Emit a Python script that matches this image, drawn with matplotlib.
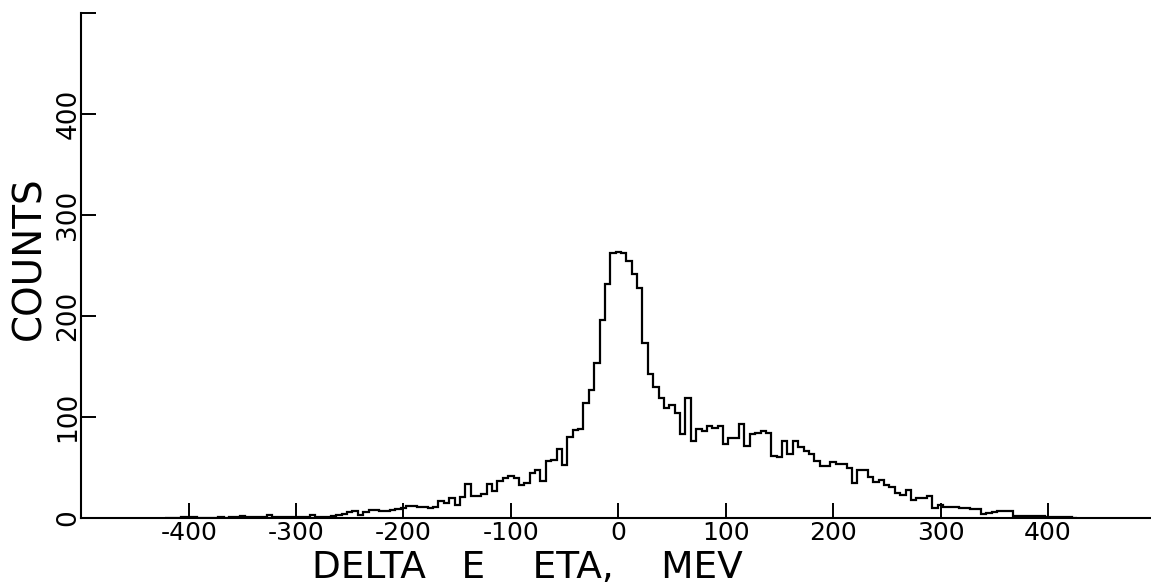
import numpy as np
import matplotlib
matplotlib.use("Agg")
import matplotlib.pyplot as plt

# Histogram of the eta energy difference, 5 MeV bins centred on multiples of 5
bin_width = 5
first_center = -420
counts = [
    0, 0, 0, 1, 1, 1, 0, 0, 0, 0,            # -420 .. -375
    1, 0, 1, 1, 2, 1, 1, 1, 1, 3,            # -370 .. -325
    1, 1, 1, 1, 1, 1, 1, 3, 1, 1,            # -320 .. -275
    1, 2, 3, 4, 6, 7, 3, 6, 8, 8,            # -270 .. -225
    7, 7, 8, 9, 10, 12, 12, 11, 11, 10,      # -220 .. -175
    11, 17, 15, 20, 13, 21, 34, 22, 22, 24,  # -170 .. -125
    34, 27, 37, 40, 42, 40, 33, 35, 45, 48,  # -120 .. -75
    37, 56, 57, 68, 52, 80, 87, 88, 114, 127,  # -70 .. -25
    153, 196, 232, 262, 263, 262, 254, 242, 228, 173,  # -20 .. 25
    143, 130, 119, 109, 112, 104, 83, 119, 76, 88,     # 30 .. 75
    86, 91, 89, 91, 73, 79, 79, 93, 71, 83,  # 80 .. 125
    84, 86, 84, 61, 60, 76, 63, 76, 70, 66,  # 130 .. 175
    63, 56, 51, 51, 55, 53, 53, 50, 35, 48,  # 180 .. 225
    48, 41, 36, 38, 33, 31, 25, 23, 28, 18,  # 230 .. 275
    20, 20, 22, 10, 13, 11, 11, 11, 10, 10,  # 280 .. 325
    9, 9, 4, 5, 6, 7, 7, 7, 2, 2,            # 330 .. 375
    2, 2, 2, 2, 1, 1, 1, 1, 1, 0,            # 380 .. 425
]

x_ticks = [-400, -300, -200, -100, 0, 100, 200, 300, 400]
x_tick_labels = ["-400", "-300", "-200", "-100", "0", "100", "200", "300", "400"]
y_ticks = [0, 100, 200, 300, 400, 500]
y_tick_labels = ["0", "100", "200", "300", "400", ""]

centers = first_center + bin_width * np.arange(len(counts))
edges = np.append(centers - bin_width / 2, centers[-1] + bin_width / 2)

plt.rcParams["font.family"] = ["DejaVu Sans"]

fig = plt.figure(figsize=(11.51, 5.87), dpi=100)
ax = fig.add_axes([81.3 / 1151, 69 / 587, 1074 / 1151, 505 / 587])

ax.stairs(counts, edges, color="black", linewidth=1.6, baseline=None)

ax.set_xlim(-500, 500)
ax.set_ylim(0, 500)

for side in ("top", "right"):
    ax.spines[side].set_visible(False)
for side in ("left", "bottom"):
    ax.spines[side].set_linewidth(1.5)
    ax.spines[side].set_color("black")

ax.set_xticks(x_ticks)
ax.set_xticklabels(x_tick_labels, fontsize=18)
ax.set_yticks(y_ticks)
ax.set_yticklabels(y_tick_labels, fontsize=19, rotation=90, va="center")
ax.tick_params(axis="both", direction="in", length=11, width=1.4, color="black")
ax.tick_params(axis="x", pad=2)
ax.tick_params(axis="y", pad=0)

fig.text(527 / 1151, 1 - 578 / 587, "DELTA   E    ETA,    MEV", fontsize=27,
         ha="center", va="baseline")
fig.text(29 / 1151, 1 - 258 / 587, "COUNTS", fontsize=28, rotation=90,
         ha="center", va="center")

fig.savefig("out.png", dpi=100, facecolor="white")
